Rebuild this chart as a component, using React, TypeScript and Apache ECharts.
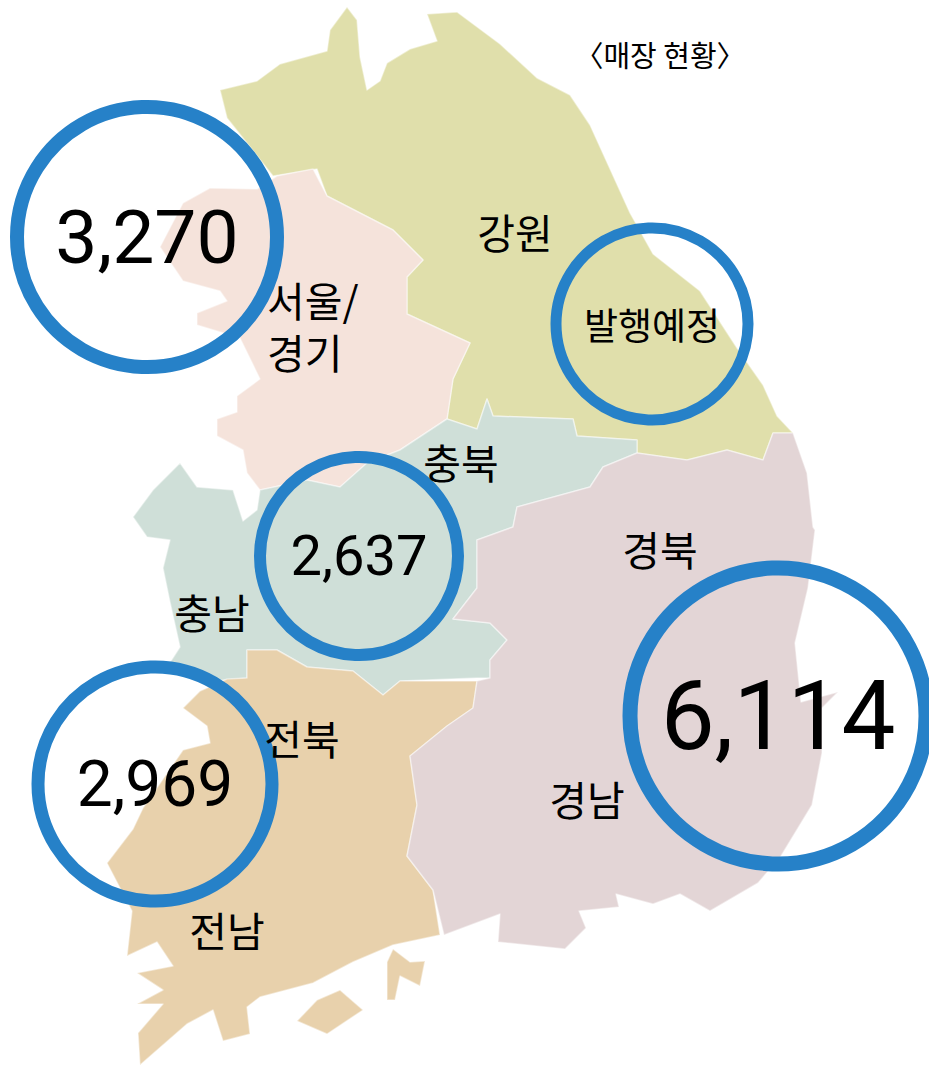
import React, { useEffect, useRef } from "react";
import * as echarts from "echarts";

type Pt = [number, number];

const gangwon: Pt[] = [[220,90],[257,81],[280,64],[327,51],[330,30],[347,7],[357,20],[360,57],[367,90],[380,81],[387,63],[410,49],[437,41],[427,14],[457,12],[500,44],[537,78],[570,95],[590,125],[610,169],[630,213],[653,254],[700,291],[737,348],[763,385],[777,416],[793,433],[773,433],[763,460],[727,450],[687,460],[637,453],[637,440],[577,436],[573,419],[493,416],[487,399],[477,429],[447,419],[453,379],[470,343],[407,314],[407,277],[423,260],[393,230],[327,196],[317,169],[273,176],[227,118]];
const gyeonggi: Pt[] = [[313,169],[327,196],[393,230],[423,260],[407,277],[407,314],[470,343],[453,379],[447,419],[400,450],[367,463],[340,487],[307,480],[260,490],[247,473],[243,450],[217,436],[217,419],[237,412],[237,396],[260,379],[240,338],[197,325],[197,313],[227,301],[220,291],[183,281],[160,247],[183,203],[210,188],[257,189],[277,176]];
const chungcheong: Pt[] = [[447,419],[477,429],[487,399],[493,416],[573,419],[577,436],[637,440],[637,453],[603,467],[590,487],[517,507],[513,527],[477,540],[477,588],[453,619],[490,623],[507,640],[490,660],[490,678],[477,678],[400,681],[383,695],[353,671],[307,667],[277,650],[247,650],[247,678],[213,681],[167,667],[180,647],[170,602],[163,568],[170,540],[147,537],[133,517],[153,490],[180,463],[197,487],[233,490],[243,521],[257,510],[260,490],[307,480],[340,487],[367,463],[400,450]];
const jeolla: Pt[] = [[227,679],[247,678],[247,650],[277,650],[307,667],[353,671],[383,695],[400,681],[477,681],[473,708],[447,726],[410,756],[417,805],[407,856],[433,890],[440,935],[393,945],[353,962],[313,983],[260,997],[247,1007],[250,1034],[223,1041],[213,1010],[187,1024],[140,1065],[138,1033],[163,1004],[137,1004],[163,990],[137,973],[173,966],[157,942],[127,956],[132,911],[107,863],[133,829],[143,808],[183,750],[210,743],[207,726],[183,708],[200,691]];
const jeollaIslandA: Pt[] = [[297,1021],[317,1000],[340,990],[363,1010],[327,1034]];
const jeollaIslandB: Pt[] = [[387,1000],[387,962],[393,949],[410,962],[425,961],[420,986],[400,976],[395,1000]];
const gyeongsang: Pt[] = [[773,433],[793,433],[807,473],[813,527],[815,530],[808,588],[795,643],[801,702],[838,692],[822,708],[822,753],[812,805],[781,856],[758,883],[710,911],[680,894],[653,904],[616,894],[619,907],[579,911],[586,928],[565,949],[498,942],[500,914],[444,935],[433,890],[407,856],[417,805],[410,756],[447,726],[473,708],[477,681],[490,678],[490,660],[507,640],[490,623],[453,619],[477,588],[477,540],[513,527],[517,507],[590,487],[603,467],[637,453],[687,460],[727,450],[763,460]];

const regionShapes: Pt[][][] = [[gangwon], [gyeonggi], [chungcheong], [jeolla, jeollaIslandA, jeollaIslandB], [gyeongsang]];
const regionColors = ["#E0DFAB", "#F5E3DB", "#CFDFD8", "#E8D1AC", "#E3D5D6"];

const storeCounts = ["3,270", "2,637", "6,114", "2,969", "발행예정"];
const bubbleX = [147, 359, 778, 155, 652];
const bubbleY = [237, 556, 716, 784, 324];
const bubbleSize = [260, 198, 296, 234, 192];
const bubbleBorder = [14, 12, 15, 13, 11];
const bubbleFont = [75, 56, 96, 64, 37];

const regionNames = ["강원", "서울/", "경기", "충북", "경북", "충남", "전북", "전남", "경남"];
const nameX = [515, 267, 267, 461, 660, 212, 302, 227, 587];
const nameY = [231, 299, 351, 461, 548, 611, 737, 929, 798];

export default function App() {
  const ref = useRef<HTMLDivElement>(null);
  useEffect(() => {
    document.body.style.margin = "0";
    const chart = echarts.init(ref.current!, undefined, { renderer: "svg" });
    chart.setOption({
      animation: false,
      backgroundColor: "#fff",
      grid: { left: 0, right: 0, top: 0, bottom: 0 },
      xAxis: { type: "value", min: 0, max: 929, show: false },
      yAxis: { type: "value", min: 0, max: 1068, inverse: true, show: false },
      title: {
        text: "〈매장 현황〉",
        left: 655,
        top: 34,
        textAlign: "center",
        textStyle: { fontFamily: "Noto Sans CJK KR", fontSize: 29, fontWeight: 400, color: "#000" },
      },
      series: [
        {
          type: "custom",
          silent: true,
          coordinateSystem: "cartesian2d",
          data: regionShapes.map((_, i) => [i]),
          encode: { x: -1, y: -1 },
          clip: false,
          renderItem: (params: any, api: any) => {
            const i = params.dataIndex;
            return {
              type: "group",
              children: regionShapes[i].map((poly) => ({
                type: "polygon",
                shape: { points: poly.map((p) => api.coord(p)) },
                style: { fill: regionColors[i], stroke: "rgba(255,255,255,0.45)", lineWidth: 1.5, lineJoin: "round" },
              })),
            };
          },
        },
        {
          type: "scatter",
          silent: true,
          data: bubbleX.map((x, i) => ({
            value: [x, bubbleY[i]],
            symbolSize: bubbleSize[i],
            itemStyle: { color: "rgba(0,0,0,0)", borderColor: "#2681C8", borderWidth: bubbleBorder[i], opacity: 1 },
            label: {
              show: true,
              position: "inside",
              formatter: storeCounts[i],
              fontFamily: i === 4 ? "Noto Sans CJK KR" : "Roboto",
              fontSize: bubbleFont[i],
              color: "#000",
            },
          })),
        },
        {
          type: "scatter",
          silent: true,
          symbolSize: 1,
          itemStyle: { color: "rgba(0,0,0,0)", opacity: 1 },
          data: nameX.map((x, i) => ({
            value: [x, nameY[i]],
            label: {
              show: true,
              position: "inside",
              formatter: regionNames[i],
              fontFamily: "Noto Sans CJK KR",
              fontSize: 41,
              align: i === 1 || i === 2 ? "left" : "center",
              color: "#000",
            },
          })),
        },
      ],
    });
    return () => chart.dispose();
  }, []);
  return <div ref={ref} style={{ width: 929, height: 1068 }} />;
}
